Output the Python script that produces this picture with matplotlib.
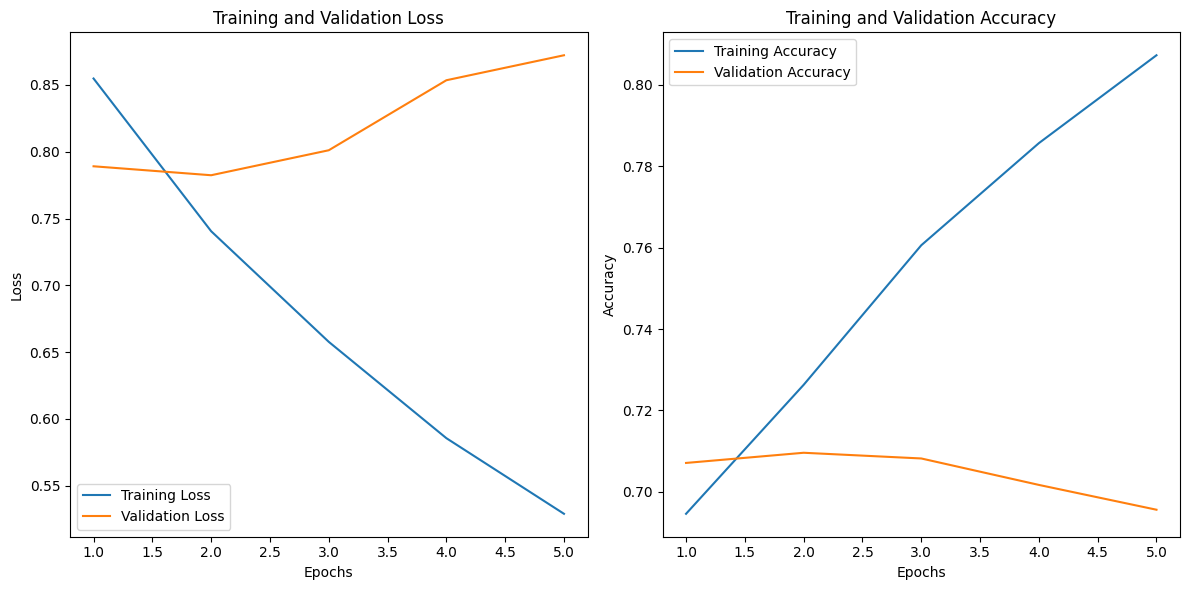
import matplotlib
matplotlib.use("Agg")
import matplotlib.pyplot as plt

epochs = [1, 2, 3, 4, 5]
train_loss = [0.8548, 0.7405, 0.6577, 0.5856, 0.5290]
val_loss = [0.7891, 0.7824, 0.8011, 0.8535, 0.8722]
train_acc = [0.6946, 0.7263, 0.7606, 0.7857, 0.8073]
val_acc = [0.7071, 0.7096, 0.7082, 0.7017, 0.6956]

fig = plt.figure(figsize=(12, 6), dpi=100)

ax1 = fig.add_subplot(1, 2, 1)
ax1.plot(epochs, train_loss, label="Training Loss")
ax1.plot(epochs, val_loss, label="Validation Loss")
ax1.set_title("Training and Validation Loss")
ax1.set_xlabel("Epochs")
ax1.set_ylabel("Loss")
ax1.legend()

ax2 = fig.add_subplot(1, 2, 2)
ax2.plot(epochs, train_acc, label="Training Accuracy")
ax2.plot(epochs, val_acc, label="Validation Accuracy")
ax2.set_title("Training and Validation Accuracy")
ax2.set_xlabel("Epochs")
ax2.set_ylabel("Accuracy")
ax2.legend()

fig.tight_layout()
fig.savefig("out.png", dpi=100, bbox_inches="tight")
